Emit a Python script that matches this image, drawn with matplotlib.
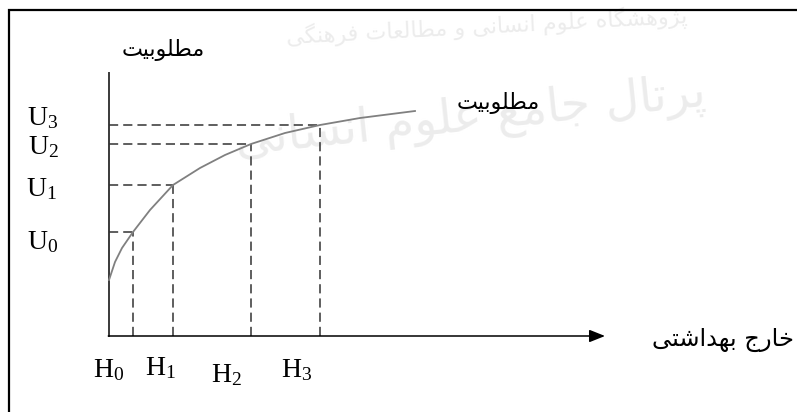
import matplotlib
matplotlib.use('Agg')
import matplotlib.pyplot as plt

plt.rcParams['mathtext.fontset'] = 'custom'
plt.rcParams['mathtext.rm'] = 'Liberation Serif'
plt.rcParams['mathtext.it'] = 'Liberation Serif'

# ── Data (origin at the axes corner, units ~ pixels of the original) ─────
h_labels = ['H_0', 'H_1', 'H_2', 'H_3']
u_labels = ['U_0', 'U_1', 'U_2', 'U_3']
h_values = [24, 64, 142, 211]
u_values = [104, 151, 192, 211]

# utility curve
curve_x = [0, 6, 13, 24, 41, 64, 91, 116, 142, 176, 211, 251, 306]
curve_y = [56, 74, 88, 104, 126, 151, 168, 181, 192, 203, 211, 218, 225]

y_title = 'مطلوبیت'
curve_title = 'مطلوبیت'
x_title = 'خارج بهداشتی'
wm_top = 'پژوهشگاه علوم انسانی و مطالعات فرهنگی'
wm_main = 'پرتال جامع علوم انسانی'

# ── minimal Persian shaping (matplotlib has no RTL/joining support) ────────
FORMS = {
    'ا': ('\uFE8D', '\uFE8E', None, None),
    'ب': ('\uFE8F', '\uFE90', '\uFE91', '\uFE92'),
    'پ': ('\uFB56', '\uFB57', '\uFB58', '\uFB59'),
    'ت': ('\uFE95', '\uFE96', '\uFE97', '\uFE98'),
    'ج': ('\uFE9D', '\uFE9E', '\uFE9F', '\uFEA0'),
    'خ': ('\uFEA5', '\uFEA6', '\uFEA7', '\uFEA8'),
    'د': ('\uFEA9', '\uFEAA', None, None),
    'ر': ('\uFEAD', '\uFEAE', None, None),
    'ژ': ('\uFB8A', '\uFB8B', None, None),
    'س': ('\uFEB1', '\uFEB2', '\uFEB3', '\uFEB4'),
    'ش': ('\uFEB5', '\uFEB6', '\uFEB7', '\uFEB8'),
    'ط': ('\uFEC1', '\uFEC2', '\uFEC3', '\uFEC4'),
    'ع': ('\uFEC9', '\uFECA', '\uFECB', '\uFECC'),
    'ف': ('\uFED1', '\uFED2', '\uFED3', '\uFED4'),
    'گ': ('\uFB92', '\uFB93', '\uFB94', '\uFB95'),
    'ل': ('\uFEDD', '\uFEDE', '\uFEDF', '\uFEE0'),
    'م': ('\uFEE1', '\uFEE2', '\uFEE3', '\uFEE4'),
    'ن': ('\uFEE5', '\uFEE6', '\uFEE7', '\uFEE8'),
    'ه': ('\uFEE9', '\uFEEA', '\uFEEB', '\uFEEC'),
    'و': ('\uFEED', '\uFEEE', None, None),
    'ی': ('\uFEEF', '\uFEF0', '\uFEF3', '\uFEF4'),
}


def shape(text):
    out = []
    for i, ch in enumerate(text):
        if ch not in FORMS:
            out.append(ch)
            continue
        prev = text[i - 1] if i > 0 else ''
        nxt = text[i + 1] if i + 1 < len(text) else ''
        join_prev = prev in FORMS and FORMS[prev][2] is not None
        join_next = nxt in FORMS and FORMS[ch][2] is not None
        iso, fin, ini, med = FORMS[ch]
        if join_prev and join_next:
            out.append(med)
        elif join_prev:
            out.append(fin)
        elif join_next:
            out.append(ini)
        else:
            out.append(iso)
    return ''.join(out)[::-1]


# ── Plot ─────────────────────────────────────────────────────────────────
fig = plt.figure(figsize=(7.97, 4.12), dpi=100)
ax = fig.add_axes([0, 0, 1, 1])
ax.set_xlim(-109, 688)
ax.set_ylim(-76, 336)
ax.axis('off')

# faint watermark of the source page
ax.text(378, 309, shape(wm_top), fontsize=16, ha='center', va='center',
        color='#ececec', rotation=3, family='DejaVu Sans', zorder=0)
ax.text(362, 218, shape(wm_main), fontsize=34, ha='center', va='center',
        color='#ececec', rotation=6, family='DejaVu Sans', zorder=0)

# frame of the original figure box
ax.plot([-100, -100, 700], [-80, 326, 326], color='black', lw=1.6,
        solid_joinstyle='miter', clip_on=False)

axis_col = '#3a3a3a'
dash_col = '#333333'

# axes
ax.plot([0, 0], [0, 263], color=axis_col, lw=1.4)
ax.annotate('', xy=(496, 0), xytext=(-0.7, 0),
            arrowprops=dict(arrowstyle='-|>,head_length=0.95,head_width=0.38',
                            color='black', lw=1.1, shrinkA=0, shrinkB=0,
                            mutation_scale=10))

# dashed guides
for hx, uy in zip(h_values, u_values):
    ax.plot([0, hx], [uy, uy], color=dash_col, lw=1.1, ls=(0, (6.0, 3.3)))
    ax.plot([hx, hx], [0, uy], color=dash_col, lw=1.1, ls=(0, (6.0, 3.3)))

# utility curve
ax.plot(curve_x, curve_y, color='#808080', lw=1.3)

# labels
u_label_x = [-66, -68, -65, -66]
u_label_y = [95, 148, 190, 219]
for lab, lx, ly in zip(u_labels, u_label_x, u_label_y):
    ax.text(lx, ly, '$\\mathrm{%s}$' % lab, fontsize=20, ha='center',
            va='center', color='black')

h_label_y = [-33, -31, -38, -33]
h_label_x = [0, 51, 118, 188]
for lab, lx, ly in zip(h_labels, h_label_x, h_label_y):
    ax.text(lx, ly, '$\\mathrm{%s}$' % lab, fontsize=20, ha='center',
            va='center', color='black')

ax.text(54, 286, shape(y_title), fontsize=16, ha='center', va='center',
        family='DejaVu Sans')
ax.text(389, 233, shape(curve_title), fontsize=16, ha='center',
        va='center', family='DejaVu Sans')
ax.text(543, -4, shape(x_title), fontsize=17.4, ha='left', va='center',
        family='DejaVu Sans')

plt.savefig('out.png', dpi=100)
plt.close()
